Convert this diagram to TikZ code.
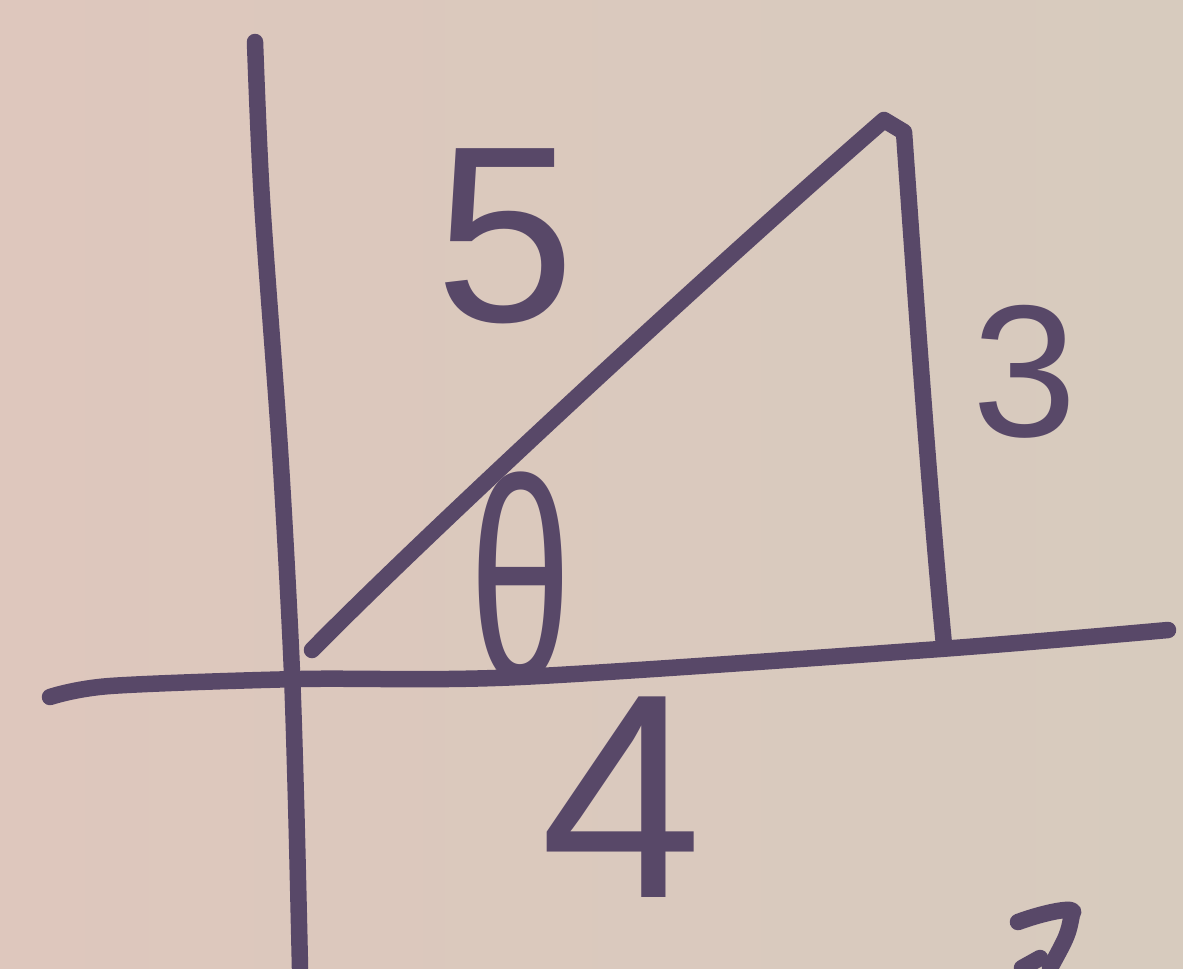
\documentclass[tikz,border=0pt]{standalone}
\usepackage{fontspec}
\setmainfont{Liberation Sans}
\usepackage{graphicx}
\definecolor{paperL}{RGB}{222,199,189}
\definecolor{paperR}{RGB}{215,203,190}
\definecolor{ink}{RGB}{88,72,104}
\begin{document}
\begin{tikzpicture}[x=0.02cm,y=-0.02cm,
  pen/.style={draw=ink,line width=0.33cm,line cap=round,line join=round},
  digit/.style={text=ink,inner sep=0pt,anchor=center}]
\useasboundingbox (0,0) rectangle (1183,968);
\shade[left color=paperL,right color=paperR] (0,0) rectangle (1183,968);
% vertical axis
\draw[pen] plot[smooth,tension=0.5] coordinates {(255,42) (262,200) (280,450) (291,650) (296,800) (300,968)};
% horizontal axis
\draw[pen] plot[smooth,tension=0.5] coordinates {(50,697) (110,686) (300,679) (520,677) (940,649) (1168,630)};
% hypotenuse and opposite side
\coordinate (A) at (312,650);
\coordinate (B) at (884,120);
\coordinate (C) at (944,645);
\draw[pen] (A) .. controls (420,540) and (700,280) .. (B) -- (904,132) .. controls (918,330) and (930,500) .. (C);
% labels
\node[digit] (five) at (505,236) {\fontsize{143pt}{143pt}\selectfont 5};
\node[digit] (three) at (1025,372) {\fontsize{107pt}{107pt}\selectfont 3};
\node[digit] (four) at (622,797) {\fontsize{166pt}{166pt}\selectfont 4};
\node[digit] (theta) at (521,578) {\scalebox{0.64}[1]{\fontsize{164pt}{164pt}\selectfont θ}};
% cut-off marks at the bottom edge
\coordinate (c1) at (1018,922);
\coordinate (c2) at (1072,914);
\coordinate (c3) at (1050,968);
\draw[pen] (c1) .. controls (1045,912) and (1080,905) .. (c2) .. controls (1068,935) .. (c3);
\coordinate (d1) at (1040,958);
\coordinate (d2) at (1022,968);
\draw[pen] (d1) -- (d2);
\end{tikzpicture}
\end{document}
